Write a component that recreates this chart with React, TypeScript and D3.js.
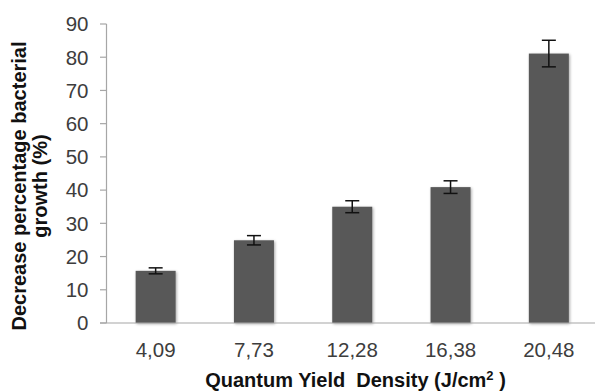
import React from "react"
import * as d3 from "d3"

const W = 595
const H = 391

const categories = ["4,09", "7,73", "12,28", "16,38", "20,48"]
const values = [15.7, 24.9, 35.0, 40.9, 81.1]
const errors = [0.9, 1.4, 1.8, 1.9, 4.0]
const yTicks = [0, 10, 20, 30, 40, 50, 60, 70, 80, 90]

const AXIS_X = 106.5
const AXIS_Y = 323
const TOP_Y = 24

export default function App() {
  const x = d3
    .scaleBand<string>()
    .domain(categories)
    .range([AXIS_X, 598])
    .paddingInner(0.593)
    .paddingOuter(0.2965)

  const y = d3.scaleLinear().domain([0, 90]).range([AXIS_Y, TOP_Y])

  const font = "'Liberation Sans', Arial, sans-serif"

  return (
    <svg
      width={W}
      height={H}
      style={{ position: "absolute", left: 0, top: 0, background: "#fff" }}
      fontFamily={font}
    >
      <defs>
        <filter id="barShadow" x="-20%" y="-5%" width="140%" height="115%">
          <feGaussianBlur in="SourceAlpha" stdDeviation="1.6" />
          <feOffset dx="1" dy="1" result="blur" />
          <feComponentTransfer>
            <feFuncA type="linear" slope="0.35" />
          </feComponentTransfer>
          <feMerge>
            <feMergeNode />
            <feMergeNode in="SourceGraphic" />
          </feMerge>
        </filter>
      </defs>

      {/* y axis */}
      <line x1={AXIS_X} x2={AXIS_X} y1={y(90)} y2={AXIS_Y} stroke="#a6a6a6" strokeWidth={1.2} />
      {yTicks.map(t => (
        <g key={t}>
          <line x1={AXIS_X - 6.5} x2={AXIS_X} y1={y(t)} y2={y(t)} stroke="#a6a6a6" strokeWidth={1.2} />
          <text
            x={88.5}
            y={y(t)}
            dy="0.36em"
            textAnchor="end"
            fontSize={20.5}
            fill="#3d3d3d"
          >
            {t}
          </text>
        </g>
      ))}

      {/* bars */}
      {categories.map((c, i) => (
        <rect
          key={c}
          x={x(c)}
          y={y(values[i])}
          width={x.bandwidth()}
          height={AXIS_Y - y(values[i])}
          fill="#595959"
          filter="url(#barShadow)"
        />
      ))}

      {/* x axis */}
      <line x1={AXIS_X - 6.5} x2={W} y1={AXIS_Y} y2={AXIS_Y} stroke="#a6a6a6" strokeWidth={1.2} />

      {/* error bars */}
      {categories.map((c, i) => {
        const cx = (x(c) ?? 0) + x.bandwidth() / 2
        const hi = y(values[i] + errors[i])
        const lo = y(values[i] - errors[i])
        return (
          <g key={c} stroke="#111" strokeWidth={1.5}>
            <line x1={cx} x2={cx} y1={hi} y2={lo} />
            <line x1={cx - 7} x2={cx + 7} y1={hi} y2={hi} />
            <line x1={cx - 7} x2={cx + 7} y1={lo} y2={lo} />
          </g>
        )
      })}

      {/* x tick labels */}
      {categories.map(c => (
        <text
          key={c}
          x={(x(c) ?? 0) + x.bandwidth() / 2}
          y={357}
          textAnchor="middle"
          fontSize={20.5}
          fill="#3d3d3d"
        >
          {c}
        </text>
      ))}

      {/* x title */}
      <text
        x={355.5}
        y={387}
        textAnchor="middle"
        fontSize={20}
        fontWeight="bold"
        fill="#111"
        style={{ whiteSpace: "pre" }}
      >
        {"Quantum Yield  Density (J/cm"}
        <tspan fontSize={13} dy={-7}>2</tspan>
        <tspan dy={7}>{" )"}</tspan>
      </text>

      {/* y title */}
      <g transform="translate(26,186) rotate(-90)">
        <text textAnchor="middle" fontSize={20} fontWeight="bold" fill="#111">
          Decrease percentage bacterial
        </text>
      </g>
      <g transform="translate(47,186) rotate(-90)">
        <text textAnchor="middle" fontSize={20} fontWeight="bold" fill="#111">
          growth (%)
        </text>
      </g>
    </svg>
  )
}
